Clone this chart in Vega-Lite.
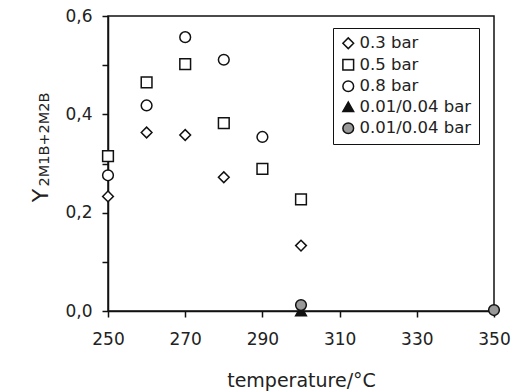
{
  "$schema": "https://vega.github.io/schema/vega-lite/v6.json",
  "width": 386,
  "height": 295,
  "autosize": {"type": "none"},
  "padding": {"left": 108, "top": 16, "right": 18, "bottom": 80},
  "background": "white",
  "config": {
    "font": "DejaVu Sans",
    "view": {"stroke": "#111", "strokeWidth": 1.5},
    "axis": {"grid": false, "domainColor": "#111", "domainWidth": 1.5, "tickColor": "#111", "tickWidth": 1.5, "tickSize": 6, "labelColor": "#222", "titleColor": "#222", "labelFont": "DejaVu Sans", "titleFont": "DejaVu Sans", "titleFontWeight": "normal"},
    "legend": {
      "title": null, "orient": "none", "legendX": 225, "legendY": 12,
      "fillColor": "white", "strokeColor": "#111", "padding": 7,
      "labelFontSize": 16.5, "labelColor": "#222", "labelFont": "DejaVu Sans",
      "symbolSize": 115, "symbolStrokeWidth": 1.5,
      "rowPadding": 3.5, "labelOffset": 3
    }
  },
  "data": {
    "values": [
      {"t": 250, "y": 0.233, "s": "0.3 bar"},
      {"t": 260, "y": 0.363, "s": "0.3 bar"},
      {"t": 270, "y": 0.358, "s": "0.3 bar"},
      {"t": 280, "y": 0.272, "s": "0.3 bar"},
      {"t": 300, "y": 0.133, "s": "0.3 bar"},
      {"t": 250, "y": 0.315, "s": "0.5 bar"},
      {"t": 260, "y": 0.465, "s": "0.5 bar"},
      {"t": 270, "y": 0.502, "s": "0.5 bar"},
      {"t": 280, "y": 0.382, "s": "0.5 bar"},
      {"t": 290, "y": 0.289, "s": "0.5 bar"},
      {"t": 300, "y": 0.227, "s": "0.5 bar"},
      {"t": 250, "y": 0.276, "s": "0.8 bar"},
      {"t": 260, "y": 0.418, "s": "0.8 bar"},
      {"t": 270, "y": 0.557, "s": "0.8 bar"},
      {"t": 280, "y": 0.511, "s": "0.8 bar"},
      {"t": 290, "y": 0.354, "s": "0.8 bar"},
      {"t": 300, "y": 0.0, "s": "0.01/0.04 bar"},
      {"t": 300, "y": 0.012, "s": "0.01/0.04 bar#2"},
      {"t": 350, "y": 0.002, "s": "0.01/0.04 bar#2"}
    ]
  },
  "layer": [
    {
      "mark": {"type": "point", "filled": true, "strokeWidth": 1.5, "size": 115, "opacity": 1, "clip": false},
      "encoding": {
        "x": {
          "field": "t", "type": "quantitative",
          "scale": {"domain": [250, 350], "nice": false, "zero": false},
          "axis": {
            "title": "temperature/°C", "titleFontSize": 19, "titlePadding": 24,
            "values": [250, 260, 270, 280, 290, 300, 310, 320, 330, 340, 350],
            "labelExpr": "(datum.value - 250) % 20 == 0 ? datum.label : ''",
            "labelFontSize": 17, "labelPadding": 14, "labelFlush": false
          }
        },
        "y": {
          "field": "y", "type": "quantitative",
          "scale": {"domain": [0, 0.6], "nice": false},
          "axis": {
            "title": "Y", "titleFontSize": 22, "titleBaseline": "middle", "titleX": -68, "titleY": 179,
            "values": [0, 0.1, 0.2, 0.3, 0.4, 0.5, 0.6],
            "labelExpr": "round(datum.value * 10) % 2 == 0 ? replace(format(datum.value, '.1f'), '.', ',') : ''",
            "labelFontSize": 17, "labelPadding": 10
          }
        },
        "shape": {
          "field": "s", "type": "nominal",
          "scale": {"domain": ["0.3 bar", "0.5 bar", "0.8 bar", "0.01/0.04 bar", "0.01/0.04 bar#2"], "range": ["diamond", "square", "circle", "triangle-up", "circle"]},
          "legend": {"labelExpr": "replace(datum.label, '#2', '')"}
        },
        "fill": {
          "field": "s", "type": "nominal",
          "scale": {"domain": ["0.3 bar", "0.5 bar", "0.8 bar", "0.01/0.04 bar", "0.01/0.04 bar#2"], "range": ["white", "white", "white", "#111", "#999"]},
          "legend": {"labelExpr": "replace(datum.label, '#2', '')"}
        },
        "stroke": {
          "field": "s", "type": "nominal",
          "scale": {"domain": ["0.3 bar", "0.5 bar", "0.8 bar", "0.01/0.04 bar", "0.01/0.04 bar#2"], "range": ["#111", "#111", "#111", "#111", "#111"]},
          "legend": {"labelExpr": "replace(datum.label, '#2', '')"}
        }
      }
    },
    {
      "mark": {"type": "point", "opacity": 0},
      "encoding": {
        "x": {"field": "t", "type": "quantitative", "scale": {"domain": [250, 350], "nice": false, "zero": false}},
        "y": {
          "field": "y", "type": "quantitative",
          "scale": {"domain": [0, 0.6], "nice": false},
          "axis": {
            "orient": "left", "title": "2M1B+2M2B", "titleFontSize": 14.5, "titleBaseline": "middle",
            "titleX": -64, "titleY": 123, "labels": false, "ticks": false, "domain": false
          }
        }
      }
    }
  ],
  "resolve": {"scale": {"y": "independent"}, "axis": {"y": "independent"}}
}
